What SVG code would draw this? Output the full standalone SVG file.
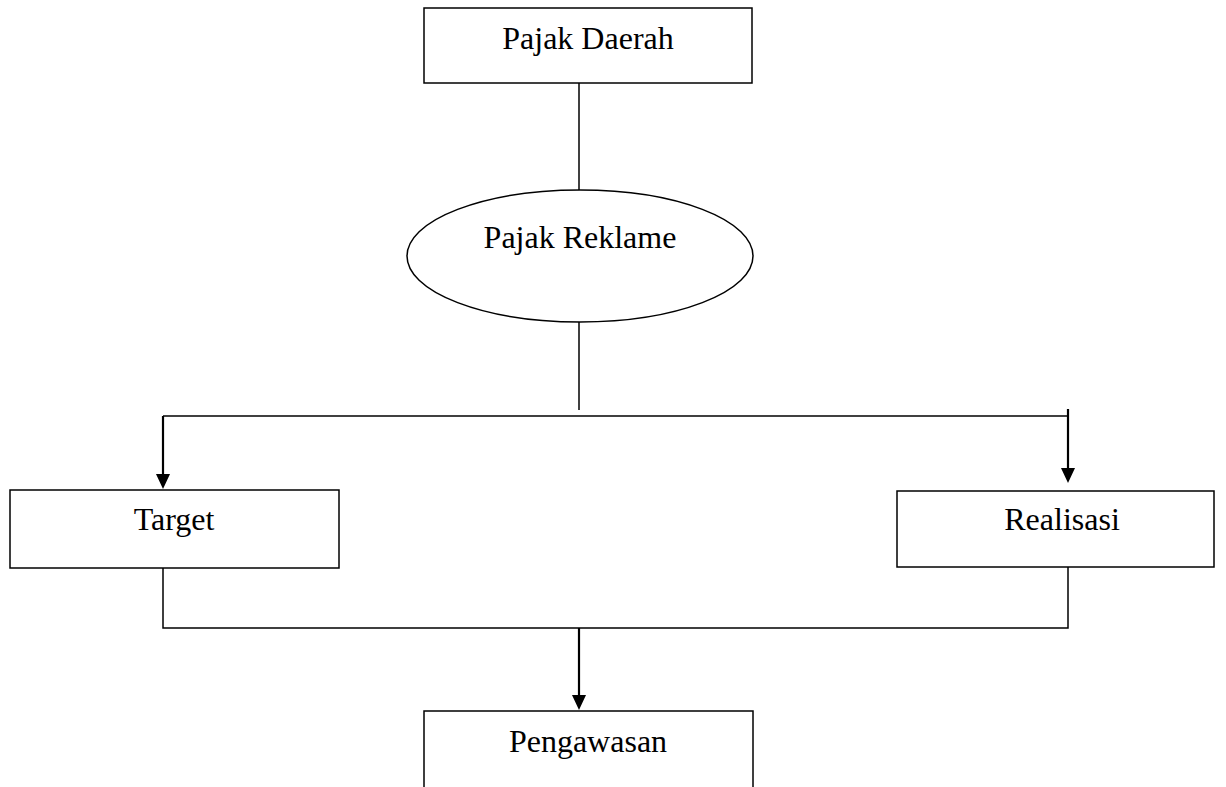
<svg xmlns="http://www.w3.org/2000/svg" width="1226" height="787" viewBox="0 0 1226 787">
<style>
.box{fill:#fff;stroke:#000;stroke-width:1.5}
.lbl{font-family:"Liberation Serif","Times New Roman",serif;font-size:32px;fill:#000;text-anchor:middle}
.ln{fill:none;stroke:#000;stroke-width:1.5}
.ar{fill:none;stroke:#000;stroke-width:2.2}
.hd{fill:#000}
</style>
<rect width="1226" height="787" fill="#fff"/>
<g id="connectors">
<line class="ln" x1="579" y1="83" x2="579" y2="190"/>
<line class="ln" x1="579" y1="322" x2="579" y2="410"/>
<line class="ln" x1="163" y1="416" x2="1068" y2="416"/>
<line class="ar" x1="163" y1="416" x2="163" y2="476"/>
<polygon class="hd" points="156,474 170,474 163,489"/>
<line class="ar" x1="1068" y1="409" x2="1068" y2="470"/>
<polygon class="hd" points="1061,468 1075,468 1068,483"/>
<polyline class="ln" points="163,568 163,628 1068,628 1068,567"/>
<line class="ar" x1="579" y1="628" x2="579" y2="697"/>
<polygon class="hd" points="572,695 586,695 579,710"/>
</g>
<g id="pajak-daerah">
<rect class="box" x="424" y="8" width="328" height="75"/>
<text class="lbl" x="588" y="49">Pajak Daerah</text>
</g>
<g id="pajak-reklame">
<ellipse class="box" cx="580" cy="256" rx="173" ry="66"/>
<text class="lbl" x="580" y="248">Pajak Reklame</text>
</g>
<g id="target">
<rect class="box" x="10" y="490" width="329" height="78"/>
<text class="lbl" x="174" y="530">Target</text>
</g>
<g id="realisasi">
<rect class="box" x="897" y="491" width="317" height="76"/>
<text class="lbl" x="1062" y="530">Realisasi</text>
</g>
<g id="pengawasan">
<rect class="box" x="424" y="711" width="329" height="90"/>
<text class="lbl" x="588" y="752">Pengawasan</text>
</g>
</svg>
